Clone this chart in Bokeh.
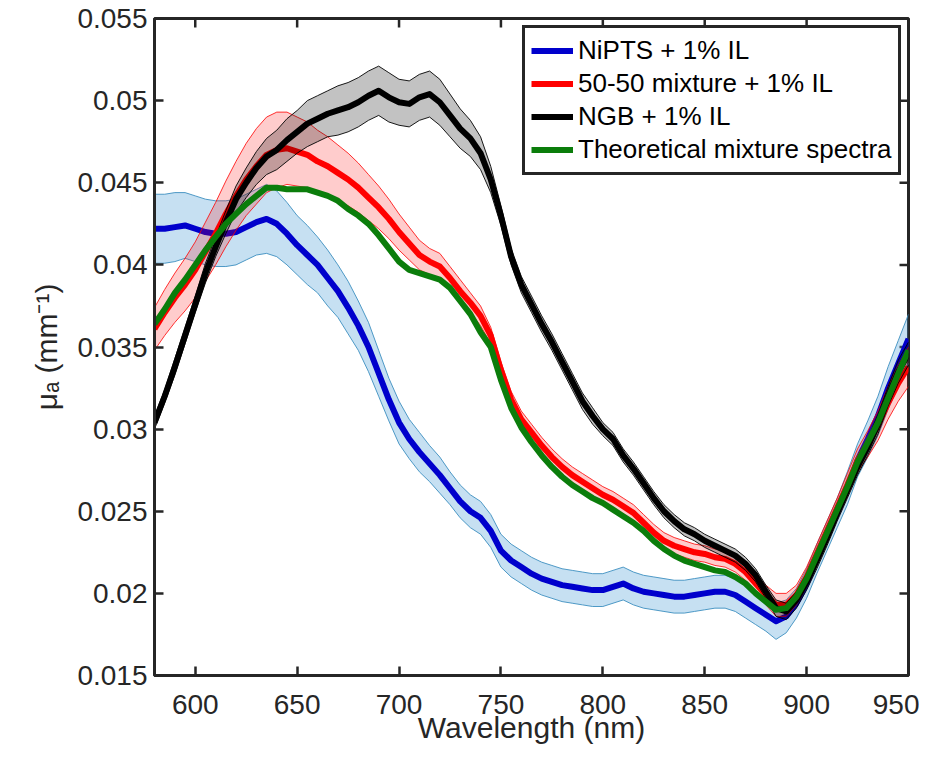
import math
import numpy as np
from bokeh.plotting import figure
from bokeh.models import Range1d, FixedTicker, Legend, LegendItem
from bokeh.embed import file_html
from bokeh.resources import INLINE

# ---------------- data ----------------
wavelength = list(range(580, 955, 5))

nipts = [0.0422, 0.0422, 0.0423, 0.0424, 0.0422, 0.0420, 0.0419, 0.0419, 0.0420, 0.0423,
         0.0426, 0.0428, 0.0425, 0.0419, 0.0412, 0.0406, 0.0400, 0.0392, 0.0384, 0.0374,
         0.0363, 0.0350, 0.0334, 0.0318, 0.0304, 0.0294, 0.0286, 0.0279, 0.0272, 0.0264,
         0.0256, 0.0250, 0.0246, 0.0238, 0.0226, 0.0220, 0.0216, 0.0212, 0.0209, 0.0207,
         0.0205, 0.0204, 0.0203, 0.0202, 0.0202, 0.0204, 0.0206, 0.0203, 0.0201, 0.0200,
         0.0199, 0.0198, 0.0198, 0.0199, 0.0200, 0.0201, 0.0201, 0.0199, 0.0195, 0.0191,
         0.0187, 0.0183, 0.0186, 0.0194, 0.0206, 0.0221, 0.0235, 0.0249, 0.0264, 0.0281,
         0.0294, 0.0308, 0.0325, 0.0340, 0.0355]
nipts_sd = [0.0021, 0.0021, 0.0021, 0.0020, 0.0020, 0.0020, 0.0020, 0.0020, 0.0020, 0.0020,
            0.0020, 0.0021, 0.0020, 0.0019, 0.0018, 0.0018, 0.0017, 0.0017, 0.0016, 0.0016,
            0.0015, 0.0015, 0.0014, 0.0013, 0.0013, 0.0012, 0.0012, 0.0011, 0.0011, 0.0010,
            0.0010, 0.0010, 0.0010, 0.0010, 0.0010, 0.0010, 0.0010, 0.0010, 0.0010, 0.0010,
            0.0010, 0.0010, 0.0010, 0.0010, 0.0010, 0.0010, 0.0010, 0.0010, 0.0010, 0.0010,
            0.0010, 0.0010, 0.0010, 0.0010, 0.0010, 0.0010, 0.0010, 0.0010, 0.0010, 0.0010,
            0.0010, 0.0011, 0.0010, 0.0009, 0.0009, 0.0009, 0.0009, 0.0009, 0.0010, 0.0010,
            0.0011, 0.0012, 0.0013, 0.0014, 0.0015]

mix5050 = [0.0361, 0.0371, 0.0380, 0.0388, 0.0397, 0.0408, 0.0419, 0.0431, 0.0442, 0.0452,
           0.0460, 0.0467, 0.0470, 0.0471, 0.0469, 0.0467, 0.0463, 0.0460, 0.0456, 0.0452,
           0.0447, 0.0441, 0.0435, 0.0428, 0.0420, 0.0413, 0.0406, 0.0402, 0.0399, 0.0392,
           0.0384, 0.0377, 0.0369, 0.0357, 0.0336, 0.0318, 0.0306, 0.0298, 0.0290, 0.0283,
           0.0277, 0.0272, 0.0268, 0.0264, 0.0260, 0.0257, 0.0253, 0.0249, 0.0243, 0.0237,
           0.0232, 0.0229, 0.0227, 0.0225, 0.0224, 0.0222, 0.0221, 0.0218, 0.0213, 0.0206,
           0.0199, 0.0193, 0.0193, 0.0199, 0.0210, 0.0224, 0.0238, 0.0252, 0.0266, 0.0281,
           0.0291, 0.0302, 0.0316, 0.0328, 0.0338]
mix5050_sd = [0.0013, 0.0014, 0.0015, 0.0016, 0.0017, 0.0018, 0.0019, 0.0020, 0.0021, 0.0022,
              0.0023, 0.0023, 0.0023, 0.0022, 0.0021, 0.0020, 0.0019, 0.0018, 0.0017, 0.0016,
              0.0015, 0.0014, 0.0013, 0.0012, 0.0011, 0.0010, 0.0009, 0.0008, 0.0008, 0.0007,
              0.0007, 0.0006, 0.0006, 0.0005, 0.0005, 0.0005, 0.0005, 0.0005, 0.0005, 0.0005,
              0.0005, 0.0005, 0.0005, 0.0005, 0.0005, 0.0005, 0.0005, 0.0005, 0.0005, 0.0005,
              0.0005, 0.0005, 0.0005, 0.0005, 0.0005, 0.0005, 0.0005, 0.0005, 0.0005, 0.0005,
              0.0006, 0.0007, 0.0007, 0.0006, 0.0006, 0.0006, 0.0006, 0.0006, 0.0007, 0.0007,
              0.0008, 0.0009, 0.0010, 0.0011, 0.0012]

ngb = [0.0304, 0.0320, 0.0338, 0.0357, 0.0376, 0.0395, 0.0411, 0.0426, 0.0440, 0.0450,
       0.0459, 0.0466, 0.0470, 0.0476, 0.0481, 0.0486, 0.0489, 0.0492, 0.0494, 0.0496,
       0.0499, 0.0503, 0.0506, 0.0502, 0.0499, 0.0498, 0.0502, 0.0504, 0.0499, 0.0491,
       0.0483, 0.0477, 0.0468, 0.0452, 0.0430, 0.0405, 0.0388, 0.0376, 0.0364, 0.0353,
       0.0341, 0.0329, 0.0317, 0.0308, 0.0300, 0.0294, 0.0284, 0.0276, 0.0267, 0.0258,
       0.0250, 0.0244, 0.0239, 0.0236, 0.0232, 0.0229, 0.0226, 0.0223, 0.0218, 0.0211,
       0.0201, 0.0191, 0.0189, 0.0196, 0.0207, 0.0220, 0.0234, 0.0249, 0.0263, 0.0277,
       0.0289, 0.0303, 0.0320, 0.0335, 0.0346]
ngb_sd = [0.0004, 0.0004, 0.0005, 0.0005, 0.0005, 0.0006, 0.0006, 0.0007, 0.0008, 0.0009,
          0.0010, 0.0011, 0.0012, 0.0013, 0.0013, 0.0014, 0.0014, 0.0014, 0.0015, 0.0015,
          0.0015, 0.0015, 0.0015, 0.0015, 0.0014, 0.0014, 0.0014, 0.0014, 0.0014, 0.0013,
          0.0012, 0.0011, 0.0010, 0.0008, 0.0006, 0.0005, 0.0005, 0.0005, 0.0005, 0.0005,
          0.0005, 0.0005, 0.0005, 0.0005, 0.0004, 0.0004, 0.0004, 0.0004, 0.0004, 0.0004,
          0.0004, 0.0004, 0.0004, 0.0004, 0.0004, 0.0004, 0.0004, 0.0004, 0.0004, 0.0004,
          0.0004, 0.0005, 0.0005, 0.0005, 0.0005, 0.0005, 0.0005, 0.0005, 0.0005, 0.0005,
          0.0005, 0.0006, 0.0006, 0.0007, 0.0007]

theoretical = [0.0364, 0.0373, 0.0383, 0.0391, 0.0400, 0.0409, 0.0417, 0.0425, 0.0431, 0.0437,
               0.0442, 0.0447, 0.0447, 0.0446, 0.0446, 0.0446, 0.0444, 0.0442, 0.0439, 0.0434,
               0.0430, 0.0425, 0.0418, 0.0410, 0.0402, 0.0397, 0.0395, 0.0393, 0.0391, 0.0386,
               0.0378, 0.0370, 0.0359, 0.0350, 0.0330, 0.0313, 0.0301, 0.0292, 0.0284, 0.0277,
               0.0271, 0.0266, 0.0262, 0.0258, 0.0255, 0.0251, 0.0247, 0.0243, 0.0238, 0.0232,
               0.0227, 0.0223, 0.0220, 0.0218, 0.0216, 0.0214, 0.0213, 0.0210, 0.0206, 0.0200,
               0.0195, 0.0190, 0.0191, 0.0198, 0.0209, 0.0223, 0.0237, 0.0251, 0.0265, 0.0280,
               0.0292, 0.0304, 0.0319, 0.0334, 0.0348]

series_labels = ["NiPTS + 1% IL", "50-50 mixture + 1% IL", "NGB + 1% IL", "Theoretical mixture spectra"]

x_lim = (580, 950)
y_lim = (0.015, 0.055)
x_ticks = [600, 650, 700, 750, 800, 850, 900, 950]
y_ticks = [0.015, 0.02, 0.025, 0.03, 0.035, 0.04, 0.045, 0.05, 0.055]
y_tick_labels = ["0.015", "0.02", "0.025", "0.03", "0.035", "0.04", "0.045", "0.05", "0.055"]

x_label = "Wavelength (nm)"
y_label = "\u03bc\u2090 (mm\u207b\u00b9)"

# ---------------- figure ----------------
AX = "#262626"
FONT = "Liberation Sans"

p = figure(width=919, height=747,
           min_border_left=154, min_border_right=11, min_border_top=18, min_border_bottom=72,
           x_range=Range1d(*x_lim), y_range=Range1d(*y_lim),
           output_backend="svg", toolbar_location=None,
           background_fill_color="white", border_fill_color="white")
p.grid.visible = False
p.outline_line_color = AX
p.outline_line_width = 3
p.outline_line_alpha = 1.0

for ax in (p.xaxis[0], p.yaxis[0]):
    ax.axis_line_color = AX
    ax.axis_line_width = 3
    ax.major_tick_in = 9
    ax.major_tick_out = 0
    ax.major_tick_line_color = AX
    ax.major_tick_line_width = 2.5
    ax.minor_tick_line_color = None
    ax.major_label_text_font = FONT
    ax.major_label_text_font_size = "28px"
    ax.major_label_text_color = AX
    ax.axis_label_text_font = FONT
    ax.axis_label_text_font_size = "30px"
    ax.axis_label_text_font_style = "normal"
    ax.axis_label_text_color = AX

p.xaxis.ticker = FixedTicker(ticks=x_ticks)
p.yaxis.ticker = FixedTicker(ticks=y_ticks)
p.yaxis.major_label_overrides = {t: s for t, s in zip(y_ticks, y_tick_labels)}
p.xaxis.major_label_standoff = 19
p.yaxis.major_label_standoff = 7
p.xaxis.axis_label = x_label
p.yaxis.axis_label = y_label
p.xaxis.axis_label_standoff = -6
p.yaxis.axis_label_standoff = 11

# inward ticks on the top and right edges of the box
p.ray(x=x_ticks, y=[y_lim[1]] * len(x_ticks), length=9, angle=-math.pi / 2,
      length_units="screen", line_color=AX, line_width=2.5)
p.ray(x=[x_lim[1]] * len(y_ticks), y=y_ticks, length=9, angle=math.pi,
      length_units="screen", line_color=AX, line_width=2.5)

wl = np.array(wavelength)


def band(y, sd, fill, fill_alpha, edge, edge_alpha):
    y = np.array(y)
    sd = np.array(sd)
    lo, hi = y - sd, y + sd
    p.varea(x=wl, y1=lo, y2=hi, fill_color=fill, fill_alpha=fill_alpha)
    p.line(wl, hi, line_color=edge, line_width=1, line_alpha=edge_alpha)
    p.line(wl, lo, line_color=edge, line_width=1, line_alpha=edge_alpha)


LW = 6
band(nipts, nipts_sd, "#4d9fd6", 0.32, "#3d8fc0", 0.9)
r_blue = p.line(wl, nipts, line_color="#0000cc", line_width=LW, line_join="round")
band(mix5050, mix5050_sd, "#ff0000", 0.2, "#ff0000", 0.8)
r_red = p.line(wl, mix5050, line_color="#ff0000", line_width=LW, line_join="round")
band(ngb, ngb_sd, "#000000", 0.24, "#000000", 0.9)
r_black = p.line(wl, ngb, line_color="#000000", line_width=LW, line_join="round")
r_green = p.line(wl, theoretical, line_color="#0b7d0b", line_width=LW, line_join="round")

legend = Legend(items=[LegendItem(label=series_labels[0], renderers=[r_blue]),
                       LegendItem(label=series_labels[1], renderers=[r_red]),
                       LegendItem(label=series_labels[2], renderers=[r_black]),
                       LegendItem(label=series_labels[3], renderers=[r_green])],
                location=(368, 500))
legend.label_text_font = FONT
legend.label_text_font_size = "26px"
legend.label_text_color = "black"
legend.glyph_width = 42
legend.glyph_height = 33
legend.label_height = 33
legend.label_standoff = 5
legend.padding = 6
legend.spacing = 0
legend.margin = 0
legend.border_line_color = AX
legend.border_line_width = 3
legend.border_line_alpha = 1.0
legend.background_fill_color = "white"
legend.background_fill_alpha = 1.0
p.add_layout(legend)

open("out.html", "w").write(file_html(p, INLINE))
